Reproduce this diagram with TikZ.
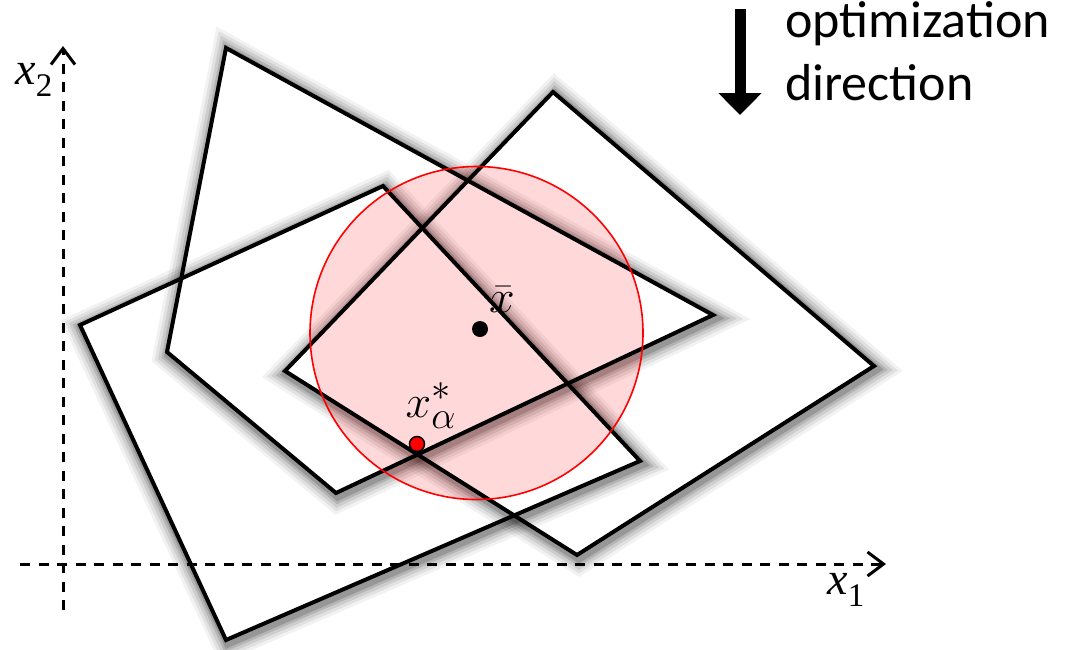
\documentclass[tikz,border=0pt]{standalone}
\usepackage{fontspec}
\newfontfamily\tnrfont{Liberation Serif}
\newfontfamily\calibfont{Carlito}
\usetikzlibrary{arrows.meta}
\newcommand{\quadA}{(226,48) -- (713,315) -- (336,493) -- (167,352) -- cycle}
\newcommand{\quadB}{(80,325) -- (383,186) -- (640,461) -- (226,640) -- cycle}
\newcommand{\quadC}{(553,92) -- (874,366) -- (577,555) -- (285,371) -- cycle}
\newcommand{\glow}[1]{%
  \begin{scope}[even odd rule]
    \clip (-50,-50) rectangle (1127,699) #1;
    \begin{scope}[shift={(2,3)}, line join=miter]
      \foreach \w/\o in {32/0.05, 26/0.07, 20/0.09, 14/0.12, 9/0.16} {
        \draw[line width=\w pt, draw=black, opacity=\o] #1;
      }
    \end{scope}
  \end{scope}}
\tikzset{
  poly/.style={draw=black, line width=4pt, line join=miter},
  axis/.style={line width=3pt, dash pattern=on 10pt off 8.5pt, -{Straight Barb[length=16pt,width=24pt,line width=3pt]}},
  big/.style={font=\fontsize{46}{50}\selectfont, inner sep=0pt},
  mathlab/.style={font=\Huge, inner sep=0pt, scale=1.85, transform shape},
}
\begin{document}
\begin{tikzpicture}[x=1pt,y=-1pt]
\useasboundingbox (0,0) rectangle (1077,649);
% axes
\draw[axis] (63,610) -- (63,46);
\draw[axis] (20,564) -- (886,564);
\node[big] (x2) at (34,80) {\tnrfont\itshape x\raisebox{-12pt}{\fontsize{33}{33}\selectfont\upshape 2}};
\node[big] (x1) at (846,590) {\tnrfont\itshape x\raisebox{-12pt}{\fontsize{33}{33}\selectfont\upshape 1}};
% shadows (outer glow)
\glow{\quadA}
\glow{\quadB}
\glow{\quadC}
% circle fill
\fill[red, fill opacity=0.15] (476.5,333) circle (166.5);
% polygons
\draw[poly] \quadA;
\draw[poly] \quadB;
\draw[poly] \quadC;
\draw[red, line width=1.6pt] (476.5,333) circle (166.5);
% points
\node[circle, fill=black, inner sep=0pt, minimum size=16pt] (xbar) at (480,329) {};
\node[circle, fill=red, draw=black, line width=1.5pt, inner sep=0pt, minimum size=15pt] (xstar) at (417,444) {};
\node[mathlab] (xbarlab) at (502,300) {$\bar{x}$};
\node[mathlab] (xstarlab) at (431,406) {$x^*_\alpha$};
% optimization direction
\draw[line width=11pt, -{Triangle[length=22pt,width=42pt]}] (740,9) -- (740,115);
\node[anchor=base west, inner sep=0pt, font=\calibfont\fontsize{52}{60}\selectfont] (opt) at (785,37) {optimization};
\node[anchor=base west, inner sep=0pt, font=\calibfont\fontsize{52}{60}\selectfont] (dir) at (785,100) {direction};
\end{tikzpicture}
\end{document}
